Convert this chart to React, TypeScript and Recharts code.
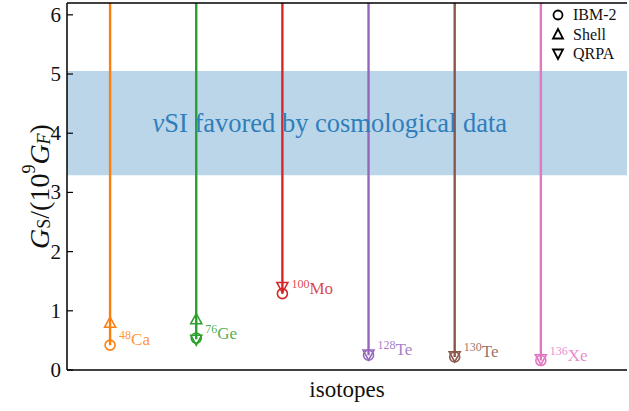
import React from 'react';
import { ComposedChart, Line, Scatter, XAxis, YAxis, ReferenceArea, ReferenceLine, ReferenceDot } from 'recharts';

const elements = ['Ca', 'Ge', 'Mo', 'Te', 'Te', 'Xe'];
const massNumbers = ['48', '76', '100', '128', '130', '136'];
const colors = ['#ff7f0e', '#2ca02c', '#d62728', '#9467bd', '#8c564b', '#e377c2'];
const ibm2: (number | null)[] = [0.42, 0.54, 1.29, 0.25, 0.22, 0.16];
const shell: (number | null)[] = [0.79, 0.85, null, null, null, null];
const qrpa: (number | null)[] = [null, 0.52, 1.41, 0.27, 0.24, 0.19];
const yTicks = [0, 1, 2, 3, 4, 5, 6];
const band = [3.29, 5.05];
const yMax = 6.2;
const legendNames = ['IBM-2', 'Shell', 'QRPA'];

const FONT = '"Liberation Serif", "DejaVu Serif", serif';

const toPoints = (vals: (number | null)[]) =>
  vals
    .map((v, i) => (v == null ? null : { x: i, y: v, color: colors[i] }))
    .filter((p) => p !== null) as { x: number; y: number; color: string }[];

const lowest = elements.map((_, i) => {
  const vs = [ibm2[i], shell[i], qrpa[i]].filter((v) => v != null) as number[];
  return Math.min(...vs);
});

const labelPoints = elements.map((el, i) => ({ x: i, y: lowest[i], color: colors[i], el, mass: massNumbers[i] }));

const R = 5;

const CircleShape = (p: any) => (
  <circle cx={p.cx} cy={p.cy} r={R} fill="none" stroke={p.payload.color} strokeWidth={1.6} />
);
const TriUpShape = (p: any) => (
  <polygon
    points={`${p.cx},${p.cy - 6} ${p.cx - 5.5},${p.cy + 4} ${p.cx + 5.5},${p.cy + 4}`}
    fill="none"
    stroke={p.payload.color}
    strokeWidth={1.6}
  />
);
const TriDownShape = (p: any) => (
  <polygon
    points={`${p.cx},${p.cy + 6} ${p.cx - 5.5},${p.cy - 4} ${p.cx + 5.5},${p.cy - 4}`}
    fill="none"
    stroke={p.payload.color}
    strokeWidth={1.6}
  />
);
const LabelShape = (p: any) => (
  <text x={p.cx + 9} y={p.cy - 0} fill={p.payload.color} fillOpacity={0.85} fontFamily={FONT} fontSize={17}>
    <tspan fontSize={12} dy={-6}>{p.payload.mass}</tspan>
    <tspan dy={6}>{p.payload.el}</tspan>
  </text>
);

const YTick = (p: any) => (
  <g>
    <line x1={p.x} x2={p.x + 6} y1={p.y} y2={p.y} stroke="#000" strokeWidth={1.2} />
    <text x={p.x - 6} y={p.y} textAnchor="end" dominantBaseline="central" fontFamily={FONT} fontSize={21} fill="#111">
      {p.payload.value}
    </text>
  </g>
);

const YLabel = (p: any) => {
  const vb = p.viewBox;
  const cx = 39;
  const cy = vb.y + vb.height / 2;
  return (
    <text
      transform={`rotate(-90 ${cx} ${cy})`}
      x={cx}
      y={cy}
      textAnchor="middle"
      dominantBaseline="central"
      fontFamily={FONT}
      fontSize={28}
      fill="#111"
    >
      <tspan fontStyle="italic">G</tspan>
      <tspan fontSize={18} dy={5}>S</tspan>
      <tspan dy={-5}>/(10</tspan>
      <tspan fontSize={18} dy={-10}>9</tspan>
      <tspan dy={10} fontStyle="italic">G</tspan>
      <tspan fontSize={18} dy={5} fontStyle="italic">F</tspan>
      <tspan dy={-5}>)</tspan>
    </text>
  );
};

const XLabel = (p: any) => {
  const vb = p.viewBox;
  return (
    <text x={vb.x + vb.width / 2} y={vb.y + 19} textAnchor="middle" dominantBaseline="central" fontFamily={FONT} fontSize={23} fill="#111">
      isotopes
    </text>
  );
};

const BandLabel = (p: any) => {
  const vb = p.viewBox;
  return (
    <text x={vb.cx ?? vb.x} y={vb.cy ?? vb.y} textAnchor="middle" dominantBaseline="central" fontFamily={FONT} fontSize={26.5} fill="#2f7ebc">
      <tspan fontStyle="italic">ν</tspan>
      <tspan>SI favored by cosmological data</tspan>
    </text>
  );
};

const legendKinds = ['circle', 'up', 'down'];

const LegendBox = () => (
  <div style={{ position: 'absolute', top: 5, left: 551, fontFamily: FONT, fontSize: 16, color: '#111', lineHeight: '19.5px' }}>
    {legendNames.map((name, k) => (
      <div key={name} style={{ display: 'flex', alignItems: 'center' }}>
        <svg width={14} height={14} style={{ marginRight: 8 }}>
          {legendKinds[k] === 'circle' && <circle cx={7} cy={7} r={4.5} fill="none" stroke="#000" strokeWidth={1.8} />}
          {legendKinds[k] === 'up' && <polygon points="7,2 2,11.5 12,11.5" fill="none" stroke="#000" strokeWidth={1.8} />}
          {legendKinds[k] === 'down' && <polygon points="7,12 2,2.5 12,2.5" fill="none" stroke="#000" strokeWidth={1.8} />}
        </svg>
        <span>{name}</span>
      </div>
    ))}
  </div>
);

export default function App() {
  return (
    <div style={{ position: 'absolute', left: 0, top: 0, width: 629, height: 411, background: '#fff' }}>
      <ComposedChart width={629} height={411} margin={{ top: 3, right: 2, bottom: 0, left: 0 }}>
        <XAxis
          dataKey="x"
          type="number"
          domain={[-0.5, 6]}
          tick={false}
          tickLine={false}
          axisLine={{ stroke: '#000', strokeWidth: 1.5 }}
          height={41}
          label={<XLabel />}
        />
        <YAxis
          type="number"
          domain={[0, yMax]}
          ticks={yTicks}
          tick={<YTick />}
          tickLine={false}
          tickSize={0}
          tickMargin={0}
          allowDataOverflow
          axisLine={{ stroke: '#000', strokeWidth: 1.5 }}
          width={67}
          label={<YLabel />}
        />
        {elements.map((_, i) => (
          <Line
            key={'l' + i}
            data={[
              { x: i, y: lowest[i] },
              { x: i, y: yMax },
            ]}
            dataKey="y"
            stroke={colors[i]}
            strokeWidth={2.4}
            dot={false}
            activeDot={false}
            isAnimationActive={false}
            legendType="none"
          />
        ))}
        <Scatter data={toPoints(ibm2)} dataKey="y" shape={<CircleShape />} isAnimationActive={false} legendType="none" />
        <Scatter data={toPoints(shell)} dataKey="y" shape={<TriUpShape />} isAnimationActive={false} legendType="none" />
        <Scatter data={toPoints(qrpa)} dataKey="y" shape={<TriDownShape />} isAnimationActive={false} legendType="none" />
        <Scatter data={labelPoints} dataKey="y" shape={<LabelShape />} isAnimationActive={false} legendType="none" />
        <ReferenceArea y1={band[0]} y2={band[1]} x1={-0.5} x2={6} fill="#1f77b4" fillOpacity={0.3} stroke="none" ifOverflow="visible" />
        <ReferenceDot x={2.55} y={4.17} r={0} fill="none" stroke="none" label={<BandLabel />} />
        <ReferenceLine y={yMax} stroke="#000" strokeWidth={1.5} />
      </ComposedChart>
      <LegendBox />
    </div>
  );
}
